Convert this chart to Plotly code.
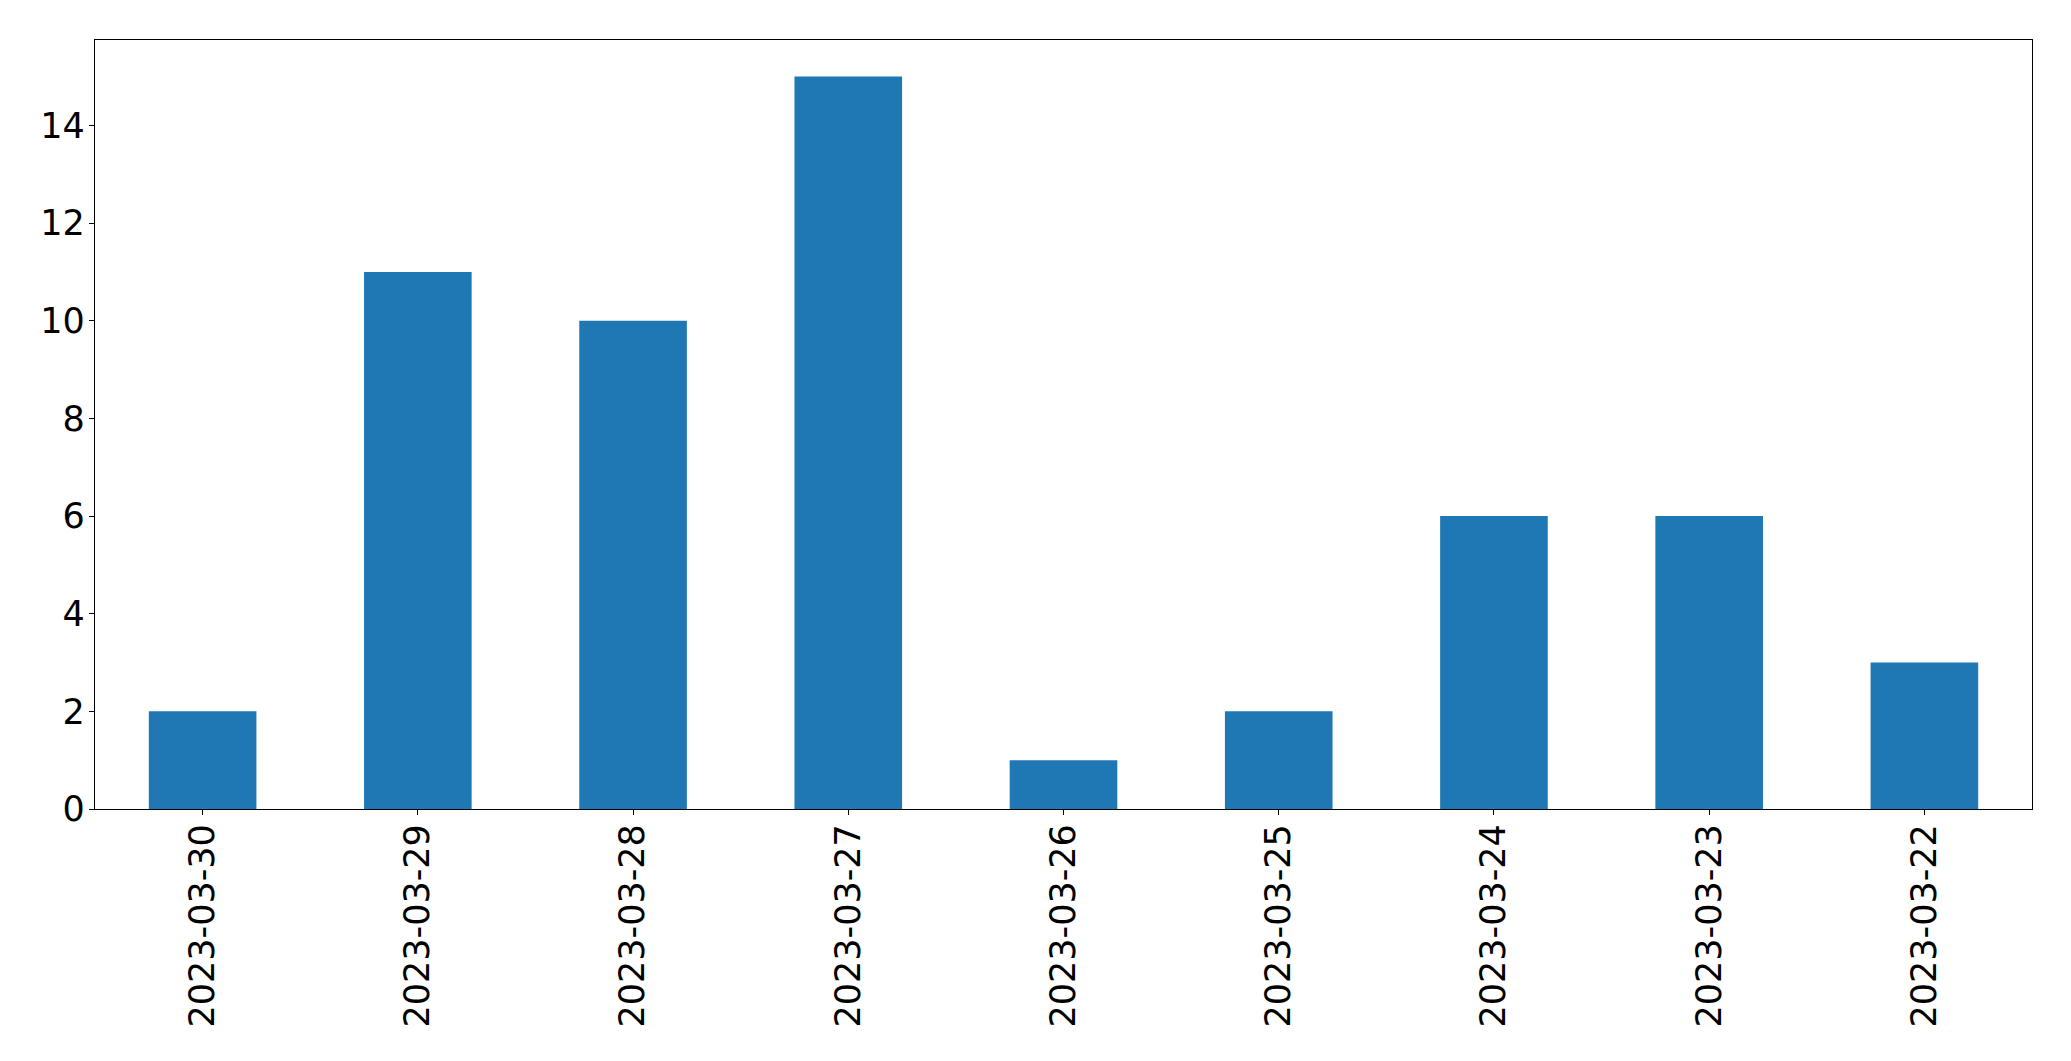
import plotly.graph_objects as go

dates = ["2023-03-30", "2023-03-29", "2023-03-28", "2023-03-27", "2023-03-26",
         "2023-03-25", "2023-03-24", "2023-03-23", "2023-03-22"]
counts = [2, 11, 10, 15, 1, 2, 6, 6, 3]
y_ticks = [0, 2, 4, 6, 8, 10, 12, 14]

fig = go.Figure(go.Bar(x=dates, y=counts, marker=dict(color="#1f77b4", line=dict(width=0)), width=0.5))

axis_common = dict(showline=True, linecolor="black", linewidth=1.3, mirror=True,
                   ticks="outside", ticklen=5, tickwidth=1.3, tickcolor="black",
                   showgrid=False, zeroline=False,
                   tickfont=dict(family="DejaVu Sans", size=35, color="black"))

# page body has an 8px default margin, compensate
fig.update_layout(
    width=2063, height=1053,
    margin=dict(l=87, r=39, t=32, b=252, autoexpand=False),
    paper_bgcolor="white", plot_bgcolor="white",
    showlegend=False,
)
fig.update_xaxes(type="category", range=[-0.5, 8.5], tickangle=-90,
                 ticklabelstandoff=-5, automargin=False, **axis_common)
fig.update_yaxes(range=[0, 15.75], tickvals=y_ticks,
                 ticklabelstandoff=-3, automargin=False, **axis_common)

fig.write_html("out.html")
